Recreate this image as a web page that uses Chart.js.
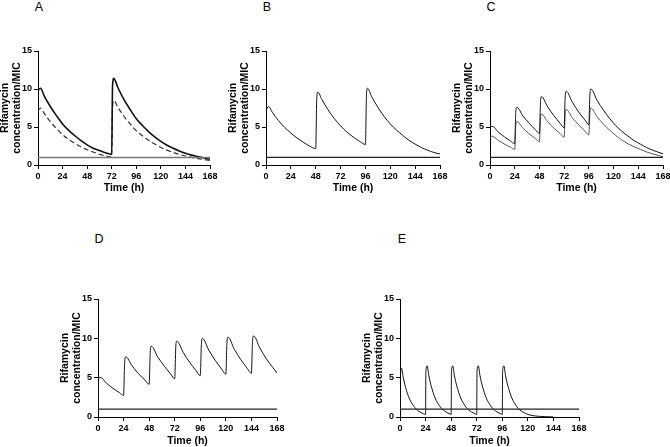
<!DOCTYPE html>
<html>
<head>
<meta charset="utf-8">
<script src="https://cdn.jsdelivr.net/npm/chart.js@4.4.1/dist/chart.umd.min.js"></script>
<style>
  body { margin: 0; background: #fff; }
  #wrap { position: relative; width: 670px; height: 447px; overflow: hidden; background: #fff; }
  canvas { position: absolute; }
  .tag { position: absolute; font: 12.5px "Liberation Sans", Arial, sans-serif; line-height: 1; color: #000; transform: translateX(-50%); }
</style>
</head>
<body>
<div id="wrap">
  <div class="tag" style="left:39px;top:1px">A</div>
  <div class="tag" style="left:267px;top:1px">B</div>
  <div class="tag" style="left:491px;top:1px">C</div>
  <div class="tag" style="left:99px;top:233px">D</div>
  <div class="tag" style="left:402px;top:233px">E</div>
  <canvas id="panelA"></canvas>
  <canvas id="panelB"></canvas>
  <canvas id="panelC"></canvas>
  <canvas id="panelD"></canvas>
  <canvas id="panelE"></canvas>
</div>
<script>
// axis ticks shared by all panels
const timeTicks = [0, 24, 48, 72, 96, 120, 144, 168];
const concTicks = [0, 5, 10, 15];

// MIC reference line
const micTime = [0, 168];
const micLevel = [1, 1];

// Panel A: two regimens, dose at 0 h and 72 h
const aTime = [0, 2.5, 6, 12, 18, 24, 30, 36, 42, 48, 54, 60, 66, 72, 72.8, 74, 78, 84, 90, 96, 102, 108, 114, 120, 126, 132, 138, 144, 150, 156, 162, 168];
const aSolid = [9.8, 10.1, 9.1, 7.7, 6.5, 5.4, 4.55, 3.85, 3.2, 2.65, 2.2, 1.9, 1.6, 1.4, 10.4, 11.4, 10.2, 8.6, 7.3, 6.1, 5.2, 4.4, 3.7, 3.1, 2.6, 2.2, 1.85, 1.55, 1.3, 1.1, 0.92, 0.78];
const aDashed = [7.1, 7.5, 6.8, 5.7, 4.8, 4.0, 3.35, 2.85, 2.4, 2.0, 1.7, 1.42, 1.2, 1.05, 7.6, 8.5, 7.6, 6.4, 5.4, 4.5, 3.85, 3.25, 2.75, 2.3, 1.95, 1.65, 1.4, 1.18, 1.0, 0.85, 0.72, 0.6];

// Panel B: dose every 48 h
const bTime = [0, 2.5, 6, 12, 18, 24, 30, 36, 42, 48, 49, 50, 54, 60, 66, 72, 78, 84, 90, 96, 97, 98, 102, 108, 114, 120, 126, 132, 138, 144, 150, 156, 162, 168];
const bValues = [7.2, 7.7, 6.95, 5.85, 4.95, 4.2, 3.55, 3.0, 2.5, 2.15, 8.7, 9.6, 8.6, 7.25, 6.1, 5.15, 4.35, 3.7, 3.15, 2.7, 9.2, 10.1, 9.0, 7.6, 6.4, 5.4, 4.6, 3.9, 3.25, 2.75, 2.3, 1.95, 1.65, 1.45];

// Panel C: daily dose for 5 days, two curves
const cTime = [0, 2, 8, 14, 20, 24, 25, 26, 32, 38, 44, 48, 49, 50, 56, 62, 68, 72, 73, 74, 80, 86, 92, 96, 97, 98, 104, 110, 116, 122, 128, 134, 140, 146, 152, 158, 164, 168];
const cUpper = [4.9, 5.1, 4.35, 3.7, 3.15, 2.8, 6.9, 7.6, 6.45, 5.5, 4.65, 4.15, 8.2, 9.0, 7.65, 6.5, 5.5, 4.9, 8.9, 9.7, 8.25, 7.0, 5.95, 5.3, 9.2, 10.0, 8.5, 7.25, 6.15, 5.2, 4.45, 3.8, 3.2, 2.75, 2.3, 1.95, 1.65, 1.48];
const cLower = [3.6, 3.8, 3.25, 2.75, 2.35, 2.05, 5.1, 5.7, 4.85, 4.1, 3.5, 3.05, 6.1, 6.7, 5.7, 4.85, 4.15, 3.65, 6.8, 7.3, 6.2, 5.3, 4.5, 3.95, 6.9, 7.5, 6.35, 5.4, 4.6, 3.9, 3.3, 2.8, 2.4, 2.05, 1.72, 1.46, 1.24, 1.08];

// Panel D: daily dose for 7 days
const dTime = [0, 0.5, 2, 8, 14, 20, 24, 25, 26, 32, 38, 44, 48, 49, 50, 56, 62, 68, 72, 73, 74, 80, 86, 92, 96, 97, 98, 104, 110, 116, 120, 121, 122, 128, 134, 140, 144, 145, 146, 152, 158, 164, 168];
const dValues = [0, 4.8, 5.05, 4.3, 3.65, 3.1, 2.75, 6.9, 7.65, 6.5, 5.5, 4.7, 4.15, 8.2, 9.0, 7.65, 6.5, 5.5, 4.85, 8.9, 9.65, 8.2, 6.95, 5.9, 5.25, 9.2, 10.0, 8.5, 7.2, 6.1, 5.45, 9.4, 10.15, 8.6, 7.3, 6.2, 5.55, 9.6, 10.3, 8.75, 7.4, 6.3, 5.6];

// Panel E: daily dose for 5 days, fast elimination
const eTime = [
  0, 0.3, 1.5, 3, 4.5, 6, 8, 10, 12, 14, 16.5, 19, 22, 24,
  24.3, 25.5, 27, 28.5, 30, 32, 34, 36, 38, 40.5, 43, 46, 48,
  48.3, 49.5, 51, 52.5, 54, 56, 58, 60, 62, 64.5, 67, 70, 72,
  72.3, 73.5, 75, 76.5, 78, 80, 82, 84, 86, 88.5, 91, 94, 96,
  96.3, 97.5, 99, 100.5, 102, 104, 106, 108, 110, 112.5, 115, 118, 120, 126, 132, 138, 144
];
const eValues = [
  0, 4.8, 6.2, 5.05, 4.15, 3.4, 2.6, 2.0, 1.55, 1.2, 0.85, 0.62, 0.42, 0.33,
  5.8, 6.5, 5.3, 4.35, 3.6, 2.75, 2.1, 1.65, 1.25, 0.9, 0.65, 0.44, 0.33,
  5.8, 6.5, 5.3, 4.35, 3.6, 2.75, 2.1, 1.65, 1.25, 0.9, 0.65, 0.44, 0.33,
  5.8, 6.5, 5.3, 4.35, 3.6, 2.75, 2.1, 1.65, 1.25, 0.9, 0.65, 0.44, 0.33,
  5.8, 6.5, 5.3, 4.35, 3.6, 2.75, 2.1, 1.65, 1.25, 0.9, 0.65, 0.44, 0.33, 0.15, 0.07, 0.03, 0.01
];

const FONT = '"Liberation Sans", Arial, Helvetica, sans-serif';

function series(times, values, color, width, dash) {
    return {
        data: times.map((t, i) => ({ x: t, y: values[i] })),
        borderColor: color,
        borderWidth: width,
        borderDash: dash || [],
        pointRadius: 0,
        fill: false,
        cubicInterpolationMode: 'monotone'
    };
}

function axisStyle(tickValues, min, max, title, size) {
    return {
        type: 'linear',
        min: min,
        max: max,
        afterBuildTicks: scale => { scale.ticks = tickValues.map(v => ({ value: v })); },
        grid: { display: true, drawOnChartArea: false, drawTicks: true, tickLength: 4, color: '#000', lineWidth: 1 },
        border: { display: true, color: '#000', width: 1 },
        ticks: { color: '#000', padding: 2, autoSkip: false, maxRotation: 0, font: { family: FONT, size: 9, weight: 'bold' } },
        title: { display: true, text: title, color: '#000', padding: 0, font: { family: FONT, size: 10.5, weight: 'bold', lineHeight: 1.15 } },
        afterFit: scale => { if (scale.isHorizontal()) scale.height = size; else scale.width = size; }
    };
}

function buildPanel(id, box, datasets) {
    const canvas = document.getElementById(id);
    canvas.width = box.width;
    canvas.height = box.height;
    canvas.style.left = box.left + 'px';
    canvas.style.top = box.top + 'px';
    new Chart(canvas, {
        type: 'line',
        data: { datasets: datasets },
        options: {
            responsive: false,
            animation: false,
            layout: { padding: { top: 8, right: 10, left: 0, bottom: 0 } },
            plugins: { legend: { display: false }, tooltip: { enabled: false } },
            scales: {
                x: axisStyle(timeTicks, 0, 168, 'Time (h)', box.xh),
                y: axisStyle(concTicks, 0, 15, ['Rifamycin', 'concentration/MIC'], box.yw)
            }
        }
    });
}

buildPanel('panelA', { left: -1, top: 43, width: 221, height: 151, xh: 29, yw: 39 }, [
    series(micTime, micLevel, '#777', 1.5),
    series(aTime, aSolid, '#111', 1.6),
    series(aTime, aDashed, '#333', 1.2, [5, 3])
]);
buildPanel('panelB', { left: 227, top: 43, width: 223, height: 151, xh: 29, yw: 39 }, [
    series(micTime, micLevel, '#222', 1.2),
    series(bTime, bValues, '#111', 1)
]);
buildPanel('panelC', { left: 451, top: 43, width: 222, height: 151, xh: 29, yw: 39 }, [
    series(micTime, micLevel, '#222', 1.2),
    series(cTime, cUpper, '#111', 1),
    series(cTime, cLower, '#444', 0.9)
]);
buildPanel('panelD', { left: 59, top: 291, width: 228, height: 156, xh: 30, yw: 39 }, [
    series(micTime, micLevel, '#222', 1.2),
    series(dTime, dValues, '#111', 1)
]);
buildPanel('panelE', { left: 361, top: 291, width: 228, height: 156, xh: 30, yw: 39 }, [
    series(micTime, micLevel, '#222', 1.2),
    series(eTime, eValues, '#111', 1)
]);
</script>
</body>
</html>
